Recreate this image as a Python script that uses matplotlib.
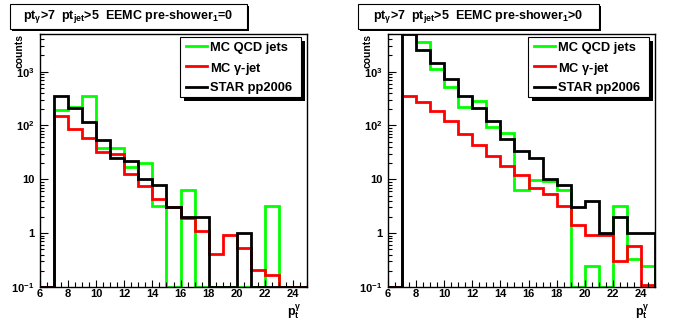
import numpy as np
import matplotlib
matplotlib.use('Agg')
from matplotlib import patches, pyplot as plt

plt.rcParams['font.family'] = ['Liberation Sans', 'DejaVu Sans']
plt.rcParams['font.weight'] = 'bold'
plt.rcParams['mathtext.fontset'] = 'custom'
plt.rcParams['mathtext.rm'] = 'Liberation Sans:bold'
plt.rcParams['mathtext.it'] = 'Liberation Sans:bold'
plt.rcParams['mathtext.bf'] = 'Liberation Sans:bold'
plt.rcParams['mathtext.default'] = 'rm'

# bins of 1 GeV from 6 to 25
edges = np.arange(6, 26)

# pre-shower_1 == 0
qcd_ps0 = [0, 196, 225, 360, 38, 38, 17, 20, 3.16, 0, 6.3, 0, 0, 0, 0, 0, 3.16, 0, 0]
gam_ps0 = [0, 153, 87, 58, 32, 29, 12.4, 7.4, 4.3, 3.0, 1.9, 1.1, 0.41, 0.93, 0.53, 0.21, 0.17, 0, 0]
star_ps0 = [0, 360, 213, 115, 54, 25, 22, 10, 8, 3, 2, 2, 0, 0, 1, 0, 0, 0, 0]

# pre-shower_1 > 0
qcd_ps1 = [0, 7000, 3600, 1100, 510, 217, 280, 93, 72, 6.25, 9.6, 9.2, 6.25, 0, 0.245, 0, 3.16, 0.33, 0.245]
gam_ps1 = [0, 360, 270, 184, 120, 68, 44, 27, 17.6, 11.9, 6.9, 5.4, 3.16, 1.39, 0.92, 0.92, 0.31, 0.57, 0.11]
star_ps1 = [0, 4950, 2530, 1425, 720, 360, 210, 120, 57, 33, 25, 10, 8, 3, 4, 1, 2, 1, 1]

series_names = ['MC QCD jets', r'MC $\gamma$-jet', 'STAR pp2006']
series_colors = ['#00ff00', '#ff0000', 'black']

titles = [r'pt$_{\gamma}$>7  pt$_{jet}$>5  EEMC pre-shower$_{1}$=0',
          r'pt$_{\gamma}$>7  pt$_{jet}$>5  EEMC pre-shower$_{1}$>0']

ytick_vals = [0.1, 1, 10, 100, 1000]
ytick_labels = [r'$10^{-1}$', '1', '10', r'$10^{2}$', r'$10^{3}$']
xtick_vals = [6, 8, 10, 12, 14, 16, 18, 20, 22, 24]

YMIN, YMAX = 0.1, 5000
W, H = 696, 322


def fx(px):
    return px / W


def fy(py):
    return 1 - py / H


def draw_panel(fig, left_px, hists, title, title_box):
    ax = fig.add_axes([fx(left_px), fy(287), 267 / W, 253 / H])
    ax.set_yscale('log')
    ax.set_xlim(6, 25)
    ax.set_ylim(YMIN, YMAX)

    for vals, col in zip(hists, series_colors):
        v = np.array(vals, dtype=float)
        v = np.where(v > 0, v, YMIN)
        ax.stairs(v, edges, baseline=YMIN, color=col, lw=2.0)

    ax.set_xticks(xtick_vals)
    ax.set_xticklabels([str(t) for t in xtick_vals])
    ax.set_xticks(np.arange(6, 25.01, 0.5), minor=True)
    ax.set_yticks(ytick_vals)
    ax.set_yticklabels(ytick_labels)
    ax.tick_params(which='both', direction='in', top=False, right=False,
                   labelsize=8, width=0.8)
    ax.tick_params(axis='y', which='major', length=5.5, pad=4)
    ax.tick_params(axis='y', which='minor', length=3)
    ax.tick_params(axis='x', which='major', length=5, pad=1.5)
    ax.tick_params(axis='x', which='minor', length=3.5)
    for s in ax.spines.values():
        s.set_linewidth(1.0)

    # legend box with drop shadow
    lx0, lx1, ly0, ly1 = left_px + 140, left_px + 261, 37, 97
    sh = 4
    fig.patches.append(patches.Rectangle((fx(lx0 + sh), fy(ly1 + sh)), (lx1 - lx0) / W,
                                         (ly1 - ly0) / H, transform=fig.transFigure,
                                         facecolor='black', edgecolor='none', zorder=5))
    fig.patches.append(patches.Rectangle((fx(lx0), fy(ly1)), (lx1 - lx0) / W, (ly1 - ly0) / H,
                                         transform=fig.transFigure, facecolor='white',
                                         edgecolor='black', lw=0.8, zorder=6))
    for i, (name, col) in enumerate(zip(series_names, series_colors)):
        yrow = fy(46 + 20.3 * i)
        fig.lines.append(plt.Line2D([fx(lx0 + 6), fx(lx0 + 27)], [yrow, yrow], color=col,
                                    lw=2.0, transform=fig.transFigure, zorder=7))
        fig.text(fx(lx0 + 30), yrow, name, fontsize=9.3, fontweight='bold',
                 ha='left', va='center_baseline', zorder=8)

    # title box with shadow
    bx0, bx1, by0, by1 = title_box
    fig.patches.append(patches.Rectangle((fx(bx0 + 2), fy(by1 + 2)), (bx1 - bx0) / W,
                                         (by1 - by0) / H, transform=fig.transFigure,
                                         facecolor='black', edgecolor='none', zorder=5))
    fig.patches.append(patches.Rectangle((fx(bx0), fy(by1)), (bx1 - bx0) / W, (by1 - by0) / H,
                                         transform=fig.transFigure, facecolor='white',
                                         edgecolor='black', lw=0.8, zorder=6))
    fig.text(fx((bx0 + bx1) / 2), fy((by0 + by1) / 2), title, fontsize=9, fontweight='bold',
             ha='center', va='center', zorder=8)

    fig.text(fx(left_px - 20), fy(34), 'counts', rotation=90, fontsize=7.5,
             fontweight='bold', ha='center', va='top')
    fig.text(fx(left_px + 262), fy(312), r'p$_{t}^{\gamma}$', fontsize=9,
             fontweight='bold', ha='right', va='center')
    return ax


fig = plt.figure(figsize=(6.96, 3.22), dpi=100)
draw_panel(fig, 40, [qcd_ps0, gam_ps0, star_ps0], titles[0], (10, 247, 4, 29))
draw_panel(fig, 388, [qcd_ps1, gam_ps1, star_ps1], titles[1], (358, 599, 4, 29))

fig.savefig('out.png', dpi=100)
